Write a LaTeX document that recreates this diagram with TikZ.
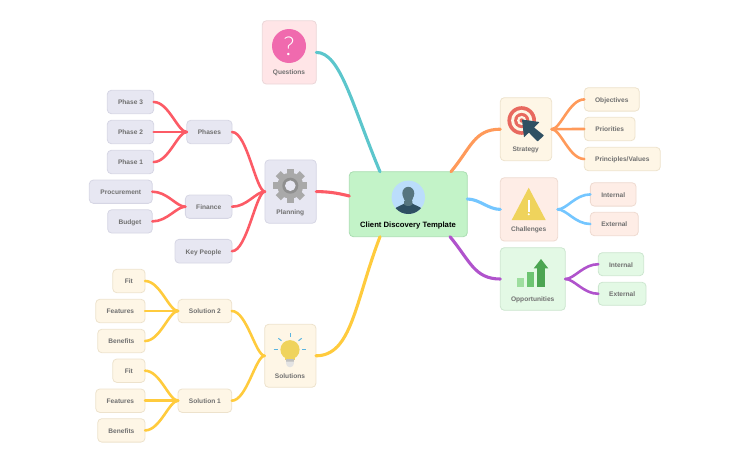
\documentclass[tikz,border=0pt]{standalone}
\usepackage{fontspec}
\setmainfont{Liberation Sans}
\newfontfamily\latofont{Lato Light}
\usetikzlibrary{calc}
\definecolor{tealL}{HTML}{5CC6CC}\definecolor{redL}{HTML}{FC5B66}\definecolor{orangeL}{HTML}{FF9A5A}
\definecolor{blueL}{HTML}{74C6FF}\definecolor{purpleL}{HTML}{B053CC}\definecolor{yellowL}{HTML}{FFCB3D}
\definecolor{pinkF}{HTML}{FFE5E7}\definecolor{pinkD}{HTML}{EBD6D8}
\definecolor{lilacF}{HTML}{E7E7F2}\definecolor{lilacD}{HTML}{D6D6E4}
\definecolor{creamF}{HTML}{FEF6E6}\definecolor{creamD}{HTML}{EDE2CC}
\definecolor{peachF}{HTML}{FEEDE6}\definecolor{peachD}{HTML}{EEDAD0}
\definecolor{mintF}{HTML}{E3F9E5}\definecolor{mintD}{HTML}{CCE6CF}
\definecolor{rootF}{HTML}{C3F3C8}\definecolor{rootD}{HTML}{A9DDB1}
\definecolor{txtG}{HTML}{707070}
\definecolor{qPink}{HTML}{F06AAE}\definecolor{gearL}{HTML}{A9A9A9}\definecolor{gearD}{HTML}{8F8F8F}
\definecolor{navy}{HTML}{2F5063}\definecolor{headG}{HTML}{56757F}\definecolor{skyC}{HTML}{BBDDFB}
\definecolor{coral}{HTML}{E8695F}\definecolor{goldI}{HTML}{EFD35C}\definecolor{rayB}{HTML}{5AB4E0}
\definecolor{barA}{HTML}{9EDE9F}\definecolor{barB}{HTML}{6CC471}\definecolor{barC}{HTML}{4CA552}
\tikzset{
 card/.style={draw,line width=.8pt,rounded corners=4pt,outer sep=0pt,inner sep=0pt},
 pinkbox/.style={card,fill=pinkF,draw=pinkD},
 lilacbox/.style={card,fill=lilacF,draw=lilacD},
 creambox/.style={card,fill=creamF,draw=creamD},
 peachbox/.style={card,fill=peachF,draw=peachD},
 mintbox/.style={card,fill=mintF,draw=mintD},
 rootbox/.style={card,fill=rootF,draw=rootD},
 size/.style 2 args={minimum width=#1pt,minimum height=#2pt},
 leaf/.style={font=\bfseries\fontsize{6.6}{8}\selectfont,text=txtG,text height=5.8pt,text depth=0pt},
 cardtext/.style={leaf,inner sep=0pt,text height=5pt,text depth=.2pt},
 link/.style={line width=2.6pt,line cap=round},
 trunk/.style={line width=3.1pt,line cap=round},
}
\begin{document}
\begin{tikzpicture}[x=1pt,y=-1pt]
\useasboundingbox (0,0) rectangle (750,463);
% main cards
\node[pinkbox,size={54}{63.3}] (questions) at (289.3,52.4) {};
\node[lilacbox,size={51.3}{63.3}] (planning) at (290.6,191.6) {};
\node[rootbox,size={118}{65}] (root) at (408.3,204.2) {};
\node[creambox,size={51.4}{63}] (strategy) at (526,129.2) {};
\node[peachbox,size={57.4}{63.3}] (challenges) at (529,209.4) {};
\node[mintbox,size={65}{62.6}] (opps) at (532.8,279) {};
\node[creambox,size={51.3}{63}] (solutions) at (290.3,355.8) {};
\node[cardtext] (questionsT) at (289,72.3) {Questions};
\node[cardtext] (planningT) at (290.3,211.7) {Planning};
\node[inner sep=0pt,font=\bfseries\fontsize{7.7}{10}\selectfont,text=black,text height=7.2pt,text depth=0pt] (rootT) at (408,223.7) {Client Discovery Template};
\node[cardtext] (strategyT) at (525.7,149.3) {Strategy};
\node[cardtext] (challengesT) at (528.7,229.3) {Challenges};
\node[cardtext] (oppsT) at (532.7,299) {Opportunities};
\node[cardtext] (solutionsT) at (290,375.7) {Solutions};
% right leaves
\node[creambox,leaf,size={55}{23.4}] (objectives) at (611.8,99.4) {Objectives};
\node[creambox,leaf,size={50.7}{23.4}] (priorities) at (609.7,129) {Priorities};
\node[creambox,leaf,size={76}{23.4}] (principles) at (622.3,159) {Principles/Values};
\node[peachbox,leaf,size={45.7}{23.4}] (cint) at (613.2,194.4) {Internal};
\node[peachbox,leaf,size={48}{23.4}] (cext) at (614.3,224) {External};
\node[mintbox,leaf,size={45.4}{23}] (oint) at (621,264.2) {Internal};
\node[mintbox,leaf,size={47.7}{23}] (oext) at (622.2,293.8) {External};
% planning tree
\node[lilacbox,leaf,size={46.4}{23.4}] (ph3) at (130.5,102) {Phase 3};
\node[lilacbox,leaf,size={46.4}{23.4}] (ph2) at (130.5,132) {Phase 2};
\node[lilacbox,leaf,size={46.4}{23.4}] (ph1) at (130.5,162) {Phase 1};
\node[lilacbox,leaf,size={45.3}{23.4}] (phases) at (209.4,132) {Phases};
\node[lilacbox,leaf,size={63}{23.3}] (proc) at (120.8,191.7) {Procurement};
\node[lilacbox,leaf,size={44.6}{23.3}] (budget) at (130,221.4) {Budget};
\node[lilacbox,leaf,size={46.7}{23.3}] (finance) at (208.7,206.7) {Finance};
\node[lilacbox,leaf,size={57}{23.7}] (keyp) at (203.5,251.2) {Key People};
% solutions tree
\node[creambox,leaf,size={32.3}{23.4}] (fit2) at (128.9,281) {Fit};
\node[creambox,leaf,size={49.3}{23.4}] (feat2) at (120.4,311) {Features};
\node[creambox,leaf,size={47.3}{23.4}] (ben2) at (121.4,341) {Benefits};
\node[creambox,leaf,size={53.7}{23.4}] (sol2) at (204.9,311) {Solution 2};
\node[creambox,leaf,size={32.3}{23.4}] (fit1) at (128.9,370.7) {Fit};
\node[creambox,leaf,size={49.3}{23.4}] (feat1) at (120.4,400.7) {Features};
\node[creambox,leaf,size={47.3}{23.4}] (ben1) at (121.4,430.4) {Benefits};
\node[creambox,leaf,size={53.7}{23.4}] (sol1) at (204.9,400.7) {Solution 1};
% trunk ends on the root card
\coordinate (rq) at ([xshift=30.7pt]root.north west);
\coordinate (rp) at ([yshift=-24.3pt]root.north west);
\coordinate (rs) at ([xshift=30.7pt]root.south west);
\coordinate (rst) at ([xshift=-16.3pt]root.north east);
\coordinate (rc) at ([yshift=-27.3pt]root.north east);
\coordinate (ro) at ([xshift=-17.3pt]root.south east);
% trunks
\draw[trunk,tealL] (questions.east) .. controls +(24,0) and +(-28,-67) .. (rq);
\draw[trunk,redL] (planning.east) .. controls +(12,0) and +(-12,-3) .. (rp);
\draw[trunk,yellowL] (solutions.east) .. controls +(36,0) and +(-25,65) .. (rs);
\draw[trunk,orangeL] (strategy.west) .. controls +(-26,0) and +(20,-24) .. (rst);
\draw[trunk,blueL] (challenges.west) .. controls +(-12,0) and +(12,0) .. (rc);
\draw[trunk,purpleL] (opps.west) .. controls +(-26,0) and +(20,24) .. (ro);
% branches
\foreach \a/\b in {ph3/phases,ph2/phases,ph1/phases,proc/finance,budget/finance,phases/planning,finance/planning,keyp/planning}
  \draw[link,redL] (\a.east) .. controls +(15,0) and +(-9,0) .. (\b.west);
\foreach \a/\b in {fit2/sol2,feat2/sol2,ben2/sol2,fit1/sol1,feat1/sol1,ben1/sol1,sol2/solutions,sol1/solutions}
  \draw[link,yellowL] (\a.east) .. controls +(15,0) and +(-9,0) .. (\b.west);
\foreach \b in {objectives,priorities,principles}
  \draw[link,orangeL] (strategy.east) .. controls +(9,0) and +(-15,0) .. (\b.west);
\foreach \b in {cint,cext}
  \draw[link,blueL] (challenges.east) .. controls +(9,0) and +(-15,0) .. (\b.west);
\foreach \b in {oint,oext}
  \draw[link,purpleL] (opps.east) .. controls +(9,0) and +(-15,0) .. (\b.west);
% question icon
\fill[qPink] (289,46) circle (17);
\node[text=white,inner sep=0pt,font=\latofont\fontsize{26}{26}\selectfont] (qmark) at (289,46) {?};
% gear icon
\begin{scope}[shift={(290.3,185.7)}]
 \fill[gearL] (0,0) circle (13);
 \foreach \r in {0,45,...,315}
  \fill[gearL,rotate=\r] (-3.6,-17) rectangle (3.6,-10);
 \fill[gearD] (0,0) circle (8);
 \fill[lilacF] (0,0) circle (5.3);
\end{scope}
% avatar icon
\begin{scope}
 \fill[skyC] (408.3,197.3) circle (16.7);
 \clip (408.3,197.3) circle (16.7);
 \fill[navy] (393,214) -- (394,209.5) .. controls (397,206) and (402,205.5) .. (405,203)
   -- (411.6,203) .. controls (414.6,205.5) and (419.6,206) .. (422.6,209.5) -- (424,214) -- cycle;
 \fill[headG] (404.2,201) -- (404.2,204.5) .. controls (406,206.5) and (410.6,206.5) .. (412.4,204.5) -- (412.4,201) -- cycle;
 \fill[headG] (408.3,193.4) ellipse (6 and 6.6);
 \fill[headG] (403,195) .. controls (403.5,199) and (405,203) .. (408.3,203) .. controls (411.6,203) and (413.1,199) .. (413.6,195) -- cycle;
\end{scope}
% target icon
\fill[coral] (521.7,120.5) circle (14.3);
\fill[creamF] (521.7,120.5) circle (10.6);
\fill[coral] (521.7,120.5) circle (7.6);
\fill[creamF] (521.7,120.5) circle (4.6);
\fill[coral] (521.7,120.5) circle (2.2);
\fill[navy,rounded corners=.6pt] (522,119.5) -- (539.5,122) -- (534,127.5) -- (544,135.5) -- (537.5,141.5) -- (528.8,132.5) -- (524,137.5) -- cycle;
% warning icon
\fill[goldI] (528.7,187.7) -- (545.7,220) -- (511.7,220) -- cycle;
\draw[white,line width=1.6pt] (528.7,200) -- (528.7,211.5);
\fill[white] (528.7,214.3) circle (1.1);
% growth icon
\fill[barA] (516.7,278.3) rectangle (524,286.7);
\fill[barB] (527,272.3) rectangle (534.3,286.7);
\fill[barC] (537.3,268.3) rectangle (544.7,286.7);
\fill[barC] (541,259) -- (548.3,268.4) -- (533.7,268.4) -- cycle;
% bulb icon
\fill[goldI] (290,349.7) circle (9.6);
\fill[goldI] (285.3,355) rectangle (294.7,359.5);
\fill[gray!50] (286,358.7) rectangle (294,361.5);
\fill[gray!22] (286,361.5) -- (294,361.5) .. controls (294,366) and (292,367.3) .. (290,367.3) .. controls (288,367.3) and (286,366) .. (286,361.5) -- cycle;
\draw[rayB,line width=1pt] (290,333.3) -- (290,337.3);
\draw[rayB,line width=1pt] (273.7,349.7) -- (277.7,349.7);
\draw[rayB,line width=1pt] (302.3,349.7) -- (306.3,349.7);
\draw[rayB,line width=1pt] (278.3,338.3) -- (281.5,340.7);
\draw[rayB,line width=1pt] (301.7,338.3) -- (298.5,340.7);
\end{tikzpicture}
\end{document}
